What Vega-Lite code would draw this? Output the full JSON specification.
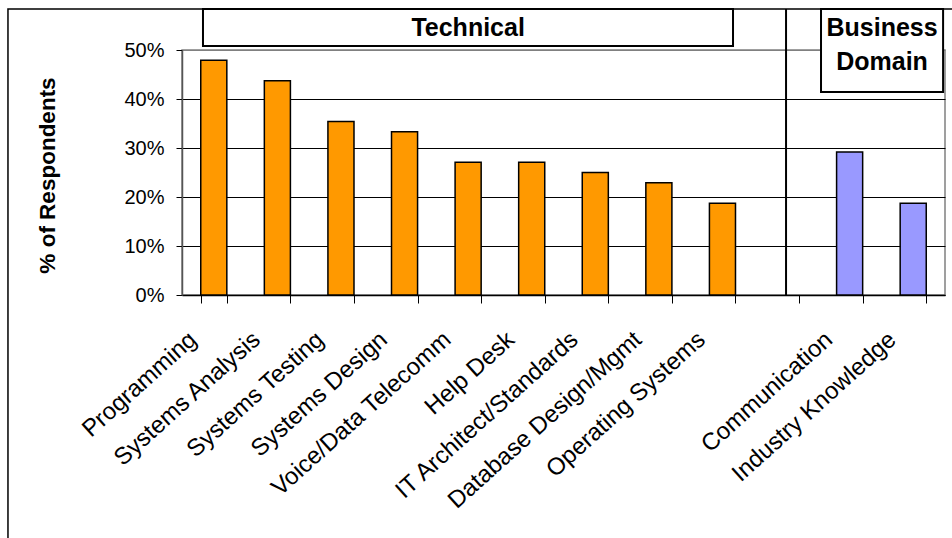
{
  "$schema": "https://vega.github.io/schema/vega-lite/v6.json",
  "width": 763,
  "height": 245,
  "autosize": {"type": "none"},
  "padding": {"left": 182, "top": 50, "right": 7, "bottom": 243},
  "background": "white",
  "config": {
    "font": "Liberation Sans",
    "view": {"stroke": "#808080", "strokeWidth": 1.5}
  },
  "datasets": {
    "skills": [
      {"skill": "Programming", "group": "Technical", "pct": 0.479},
      {"skill": "Systems Analysis", "group": "Technical", "pct": 0.4375},
      {"skill": "Systems Testing", "group": "Technical", "pct": 0.354},
      {"skill": "Systems Design", "group": "Technical", "pct": 0.333},
      {"skill": "Voice/Data Telecomm", "group": "Technical", "pct": 0.271},
      {"skill": "Help Desk", "group": "Technical", "pct": 0.271},
      {"skill": "IT Architect/Standards", "group": "Technical", "pct": 0.25},
      {"skill": "Database Design/Mgmt", "group": "Technical", "pct": 0.229},
      {"skill": "Operating Systems", "group": "Technical", "pct": 0.1875},
      {"skill": "Communication", "group": "Business Domain", "pct": 0.292},
      {"skill": "Industry Knowledge", "group": "Business Domain", "pct": 0.1875}
    ],
    "frame": [{"x0": -2.737, "x1": 12.6, "p0": -0.6, "p1": 0.5837}],
    "divider": [{"xpos": 9.5, "p0": 0, "p1": 0.5837}],
    "boxes": [
      {"name": "Technical", "x0": 0.33, "x1": 8.666, "p0": 0.5082, "p1": 0.5837},
      {"name": "Business Domain", "x0": 10.05, "x1": 11.97, "p0": 0.4143, "p1": 0.5837}
    ],
    "boxlabels": [
      {"text": "Technical", "xpos": 4.5, "p": 0.545},
      {"text": "Business", "xpos": 11.01, "p": 0.544},
      {"text": "Domain", "xpos": 11.01, "p": 0.475}
    ]
  },
  "layer": [
    {
      "data": {"name": "frame"},
      "mark": {"type": "rect", "fill": null, "stroke": "black", "strokeWidth": 1.5},
      "encoding": {
        "x": {"field": "x0", "type": "quantitative", "scale": {"domain": [0, 12], "nice": false, "zero": false}, "axis": null},
        "x2": {"field": "x1"},
        "y": {"field": "p0", "type": "quantitative", "scale": {"domain": [0, 0.5], "nice": false}},
        "y2": {"field": "p1"}
      }
    },
    {
      "data": {"name": "skills"},
      "mark": {"type": "bar", "stroke": "black", "strokeWidth": 1.5},
      "encoding": {
        "x": {
          "field": "skill",
          "type": "nominal",
          "sort": null,
          "scale": {
            "domain": ["Programming", "Systems Analysis", "Systems Testing", "Systems Design", "Voice/Data Telecomm", "Help Desk", "IT Architect/Standards", "Database Design/Mgmt", "Operating Systems", " ", "Communication", "Industry Knowledge"],
            "paddingInner": 0.59,
            "paddingOuter": 0.295
          },
          "axis": {
            "title": null,
            "labelAngle": -42,
            "labelAlign": "right",
            "labelBaseline": "middle",
            "labelFontSize": 24,
            "labelColor": "black",
            "labelPadding": 33,
            "labelOffset": -21,
            "labelOverlap": false,
            "labelLimit": 0,
            "tickBand": "extent",
            "tickSize": 8,
            "tickColor": "black",
            "domainColor": "black",
            "domainWidth": 1.5,
            "grid": false
          }
        },
        "y": {
          "field": "pct",
          "type": "quantitative",
          "scale": {"domain": [0, 0.5], "nice": false},
          "axis": {
            "title": "% of Respondents",
            "titleFontSize": 22.5,
            "titleFontWeight": "bold",
            "titleColor": "black",
            "titleAngle": -90,
            "titleBaseline": "alphabetic",
            "titleAlign": "center",
            "titleX": -128,
            "titleY": 125,
            "values": [0, 0.1, 0.2, 0.3, 0.4, 0.5],
            "format": ".0%",
            "labelFontSize": 20,
            "labelColor": "black",
            "labelPadding": 12,
            "tickSize": 6,
            "tickColor": "black",
            "domainColor": "#555555",
            "domainWidth": 1.5,
            "grid": true,
            "gridColor": {"condition": {"test": "datum.value >= 0.5", "value": "#808080"}, "value": "black"},
            "gridWidth": 1.2
          }
        },
        "color": {
          "field": "group",
          "type": "nominal",
          "scale": {"domain": ["Technical", "Business Domain"], "range": ["#FF9900", "#9999FF"]},
          "legend": null
        }
      }
    },
    {
      "data": {"name": "divider"},
      "mark": {"type": "rule", "color": "black", "strokeWidth": 2},
      "encoding": {
        "x": {"field": "xpos", "type": "quantitative", "scale": {"domain": [0, 12], "nice": false, "zero": false}, "axis": null},
        "y": {"field": "p0", "type": "quantitative", "scale": {"domain": [0, 0.5], "nice": false}},
        "y2": {"field": "p1"}
      }
    },
    {
      "data": {"name": "boxes"},
      "mark": {"type": "rect", "fill": "white", "stroke": "black", "strokeWidth": 2},
      "encoding": {
        "x": {"field": "x0", "type": "quantitative", "scale": {"domain": [0, 12], "nice": false, "zero": false}, "axis": null},
        "x2": {"field": "x1"},
        "y": {"field": "p0", "type": "quantitative", "scale": {"domain": [0, 0.5], "nice": false}},
        "y2": {"field": "p1"}
      }
    },
    {
      "data": {"name": "boxlabels"},
      "mark": {"type": "text", "fontSize": 25, "fontWeight": "bold", "color": "black", "align": "center", "baseline": "middle"},
      "encoding": {
        "x": {"field": "xpos", "type": "quantitative", "scale": {"domain": [0, 12], "nice": false, "zero": false}, "axis": null},
        "y": {"field": "p", "type": "quantitative", "scale": {"domain": [0, 0.5], "nice": false}},
        "text": {"field": "text"}
      }
    }
  ],
  "resolve": {"scale": {"x": "independent"}}
}
